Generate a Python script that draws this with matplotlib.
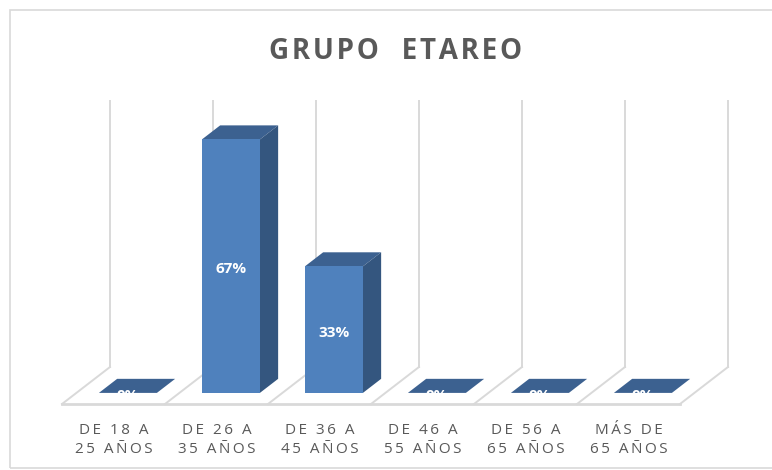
import matplotlib
matplotlib.use("Agg")
import matplotlib.pyplot as plt
from matplotlib.patches import Polygon, Rectangle

categories = [["DE 18 A", "25 AÑOS"], ["DE 26 A", "35 AÑOS"], ["DE 36 A", "45 AÑOS"],
              ["DE 46 A", "55 AÑOS"], ["DE 56 A", "65 AÑOS"], ["MÁS DE", "65 AÑOS"]]
values = [0.0, 0.667, 0.333, 0.0, 0.0, 0.0]
title = "GRUPO ETAREO"
axis_max = 0.70

FRONT = "#4F81BD"
SIDE = "#34567F"
TOP = "#3C6190"
GRID = "#D9D9D9"
TEXT = "#595959"

# oblique depth offsets (data units) and bar geometry
DX, DY = 48 / 103, 37 / 380
D0, D1 = 0.30, 0.68
BW = 0.563


def proj(u, v, d):
    return (u + d * DX, v + d * DY)


def spaced(s, sep="\u2009"):
    return sep.join(s)


fig = plt.figure(figsize=(7.72, 4.70), dpi=100)
ax = fig.add_axes([0, 0, 1, 1])
ax.set_xlim(-62 / 103, 710 / 103)
ax.set_ylim(-66 / 380, 404 / 380)
ax.axis("off")

fig.patches.append(Rectangle((10 / 772, 1 - 468 / 470), 1.0, 458 / 470,
                             transform=fig.transFigure, fill=False,
                             edgecolor=GRID, linewidth=1.2))

n = len(values)
# back gridlines and floor
for i in range(n + 1):
    x0, y0 = proj(i, 0, 1)
    x1, y1 = proj(i, axis_max, 1)
    ax.plot([x0, x1], [y0, y1], color=GRID, lw=1.4, zorder=1)
    fx, fy = proj(i, 0, 0)
    ax.plot([fx, x0], [fy, y0], color=GRID, lw=1.4, zorder=1)
ax.plot([0, n], [0, 0], color=GRID, lw=2.0, zorder=1)

# bars
for i, v in enumerate(values):
    c = i + 0.5
    l, r = c - BW / 2, c + BW / 2
    top = [proj(l, v, D0), proj(r, v, D0), proj(r, v, D1), proj(l, v, D1)]
    ax.add_patch(Polygon(top, closed=True, facecolor=TOP, edgecolor="none", zorder=3))
    if v > 0:
        side = [proj(r, 0, D0), proj(r, 0, D1), proj(r, v, D1), proj(r, v, D0)]
        front = [proj(l, 0, D0), proj(r, 0, D0), proj(r, v, D0), proj(l, v, D0)]
        ax.add_patch(Polygon(side, closed=True, facecolor=SIDE, edgecolor="none", zorder=3))
        ax.add_patch(Polygon(front, closed=True, facecolor=FRONT, edgecolor="none", zorder=4))
    lx, ly = proj(c, v / 2, D0)
    ax.text(lx, ly - 3 / 380, f"{round(v * 100)}%", color="white", fontsize=11,
            fontweight="bold", ha="center", va="center", family="Open Sans", zorder=5)

# category labels
for i, (a, b) in enumerate(categories):
    ax.text(i + 0.5, -30 / 380, spaced(a), color=TEXT, fontsize=11,
            ha="center", va="baseline", family="Open Sans")
    ax.text(i + 0.5, -49 / 380, spaced(b), color=TEXT, fontsize=11,
            ha="center", va="baseline", family="Open Sans")

fig.text(396 / 772, 1 - 59 / 470, spaced(title.replace(" ", "  "), "\u200a"), color=TEXT,
         fontsize=20, fontweight="bold", ha="center", va="baseline", family="Open Sans")

fig.savefig("out.png", dpi=100, facecolor="white")
